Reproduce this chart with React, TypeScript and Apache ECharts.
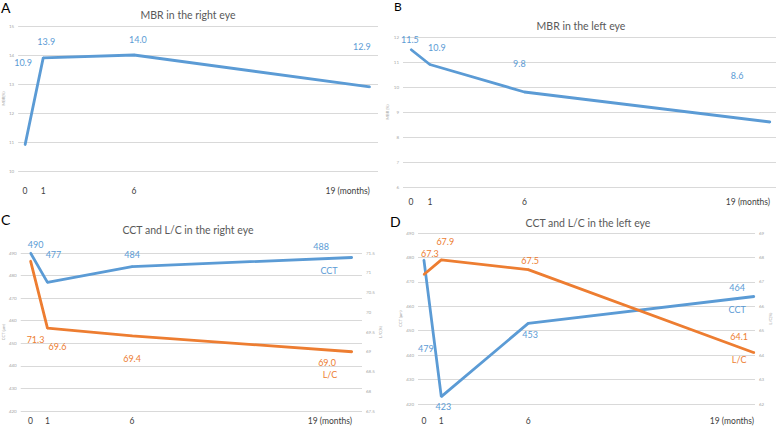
import React, { useEffect, useRef } from "react";
import * as echarts from "echarts";

// ---- data ----
const months = [0, 1, 6, 19];
const monthLabels = ["0", "1", "6", "19 (months)"];

const mbrRight = [10.9, 13.9, 14.0, 12.9];
const mbrLeft = [11.5, 10.9, 9.8, 8.6];
const cctRight = [490, 477, 484, 488];
const lcRight = [71.3, 69.6, 69.4, 69.0];
const cctLeft = [479, 423, 453, 464];
const lcLeft = [67.3, 67.9, 67.5, 64.1];

const titles = [
  "MBR in the right eye",
  "MBR in the left eye",
  "CCT and L/C in the right eye",
  "CCT and L/C in the left eye",
];
const panelLetters = ["A", "B", "C", "D"];

// ---- label placement (styling only) ----
const offA = [[-2, -82], [3, -16], [4, -16], [-8, -40]];
const offB = [[-1, -10], [7, -17], [-5, -29], [-33, -47]];
const offCcct = [[5, -9], [6, -28], [0, -12], [-31, -11]];
const offClc = [[5, 79], [10, 18], [0, 23], [-25, 11]];
const offDcct = [[2, 89], [2, 10], [2, 11], [-17, -9]];
const offDlc = [[6, -21], [4, -18], [2, -9], [-15, -16]];

const BLUE = "#5b9bd5";
const ORANGE = "#ed7d31";
const FONT = "Lato, 'Noto Sans', sans-serif";
const GRID_COLOR = "#d9d9d9";
const TICK_COLOR = "#a6a6a6";

function lineSeries(
  vals: number[],
  xi: number,
  yi: number,
  color: string,
  offs: number[][],
  digits: number,
  endName?: string,
  endOff?: number[]
) {
  const s: any = {
    type: "line",
    xAxisIndex: xi,
    yAxisIndex: yi,
    data: months.map((m, i) => ({
      value: [m, vals[i]],
      label: { offset: offs[i] },
    })),
    symbol: "circle",
    symbolSize: 2,
    showSymbol: true,
    itemStyle: { color },
    lineStyle: { color, width: 2.8 },
    label: {
      show: true,
      position: "inside",
      color,
      fontFamily: FONT,
      fontSize: 9,
      textBorderWidth: 0,
      formatter: (p: any) => Number(p.value[1]).toFixed(digits),
    },
    emphasis: { disabled: true },
  };
  if (endName) {
    s.endLabel = {
      show: true,
      formatter: endName,
      color,
      fontFamily: FONT,
      fontSize: 9,
      distance: 0,
      align: "center",
      verticalAlign: "middle",
      offset: endOff,
    };
  }
  return s;
}

function xAxis(gi: number, min: number, max: number, margin: number) {
  return {
    type: "value",
    gridIndex: gi,
    min,
    max,
    axisLine: { show: false },
    axisTick: { show: false },
    splitLine: { show: false },
    axisLabel: {
      customValues: months,
      formatter: (v: number) => monthLabels[months.indexOf(v)] ?? "",
      color: "#404040",
      fontFamily: FONT,
      fontSize: 8.5,
      margin,
      alignMaxLabel: "right",
    },
  };
}

function yAxis(
  gi: number,
  min: number,
  max: number,
  interval: number,
  name: string,
  position: "left" | "right",
  split: boolean
) {
  return {
    type: "value",
    gridIndex: gi,
    position,
    min,
    max,
    interval,
    name,
    nameLocation: "middle",
    nameGap: 12,
    nameRotate: 90,
    nameTextStyle: { color: TICK_COLOR, fontSize: 4, fontFamily: FONT },
    axisLine: { show: false },
    axisTick: { show: false },
    splitLine: { show: split, lineStyle: { color: GRID_COLOR, width: 1 } },
    axisLabel: { color: TICK_COLOR, fontSize: 4.5, fontFamily: FONT, margin: 4 },
  };
}

export default function App() {
  const ref = useRef<HTMLDivElement>(null);
  useEffect(() => {
    if (!ref.current) return;
    const chart = echarts.init(ref.current, undefined, { renderer: "svg" });
    const titleStyle = { color: "#595959", fontFamily: FONT, fontSize: 10.5, fontWeight: "normal" as const };
    const letterStyle = { color: "#000", fontFamily: FONT, fontSize: 14, fontWeight: "normal" as const };
    chart.setOption({
      animation: false,
      backgroundColor: "#ffffff",
      title: [
        { text: titles[0], left: 188, top: 9, textAlign: "center", textStyle: titleStyle, padding: 0 },
        { text: titles[1], left: 581, top: 20, textAlign: "center", textStyle: titleStyle, padding: 0 },
        { text: titles[2], left: 188, top: 224, textAlign: "center", textStyle: titleStyle, padding: 0 },
        { text: titles[3], left: 588, top: 217, textAlign: "center", textStyle: titleStyle, padding: 0 },
        { text: panelLetters[0], left: 1, top: 0, textStyle: letterStyle, padding: 0 },
        { text: panelLetters[1], left: 394, top: 0, textStyle: { ...letterStyle, fontSize: 12 }, padding: 0 },
        { text: panelLetters[2], left: 1, top: 212, textStyle: letterStyle, padding: 0 },
        { text: panelLetters[3], left: 390, top: 214, textStyle: letterStyle, padding: 0 },
      ],
      grid: [
        { left: 15, top: 26, width: 363, height: 145 },
        { left: 403, top: 37, width: 373, height: 150 },
        { left: 15, top: 253, width: 347, height: 158 },
        { left: 418, top: 233, width: 337, height: 171 },
      ],
      xAxis: [
        xAxis(0, -0.383, 19.45, 15.5),
        xAxis(1, -0.42, 19.31, 10.5),
        xAxis(2, -0.58, 19.59, 5.5),
        xAxis(3, -0.34, 19.05, 12.5),
      ],
      yAxis: [
        yAxis(0, 10, 15, 1, "MBR(%)", "left", true),
        yAxis(1, 6, 12, 1, "MBR (%)", "left", true),
        yAxis(2, 420, 490, 10, "CCT (μm)", "left", true),
        yAxis(2, 67.5, 71.5, 0.5, "L/C(%)", "right", false),
        yAxis(3, 420, 490, 10, "CCT (μm)", "left", true),
        yAxis(3, 62, 69, 1, "L/C(%)", "right", false),
      ],
      series: [
        lineSeries(mbrRight, 0, 0, BLUE, offA, 1),
        lineSeries(mbrLeft, 1, 1, BLUE, offB, 1),
        lineSeries(cctRight, 2, 2, BLUE, offCcct, 0, "CCT", [-23, 13]),
        lineSeries(lcRight, 2, 3, ORANGE, offClc, 1, "L/C", [-22, 23]),
        lineSeries(cctLeft, 3, 4, BLUE, offDcct, 0, "CCT", [-17, 13]),
        lineSeries(lcLeft, 3, 5, ORANGE, offDlc, 1, "L/C", [-15, 7]),
      ],
    });
    return () => chart.dispose();
  }, []);
  return (
    <div
      ref={ref}
      style={{ position: "fixed", left: 0, top: 0, width: 777, height: 426, background: "#fff" }}
    />
  );
}
